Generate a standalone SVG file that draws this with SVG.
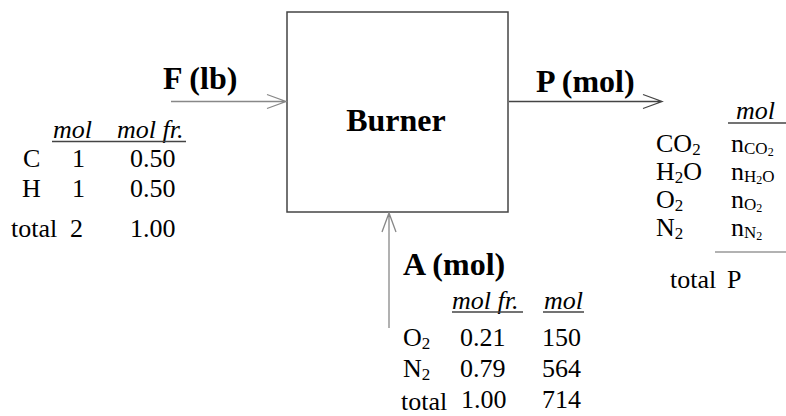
<svg xmlns="http://www.w3.org/2000/svg" width="786" height="416" viewBox="0 0 786 416">
<defs>
<style>
text{font-family:"Liberation Serif","Times New Roman",serif;fill:#000}
.lbl{font-size:32px;font-weight:bold}
.t{font-size:26px}
.h{font-size:26px;font-style:italic}
.sub{font-size:17px}
.ssub{font-size:12px}
.conn{fill:none;stroke-width:1.3}
.ul{stroke:#444;stroke-width:1.3}
</style>
</defs>
<g id="burner">
<rect x="287" y="12" width="221" height="200" fill="#fff" stroke="#444" stroke-width="1.5"/>
<text x="396" y="131" text-anchor="middle" style="font-size:32px;font-weight:bold">Burner</text>
</g>
<g id="connectors">
<path class="conn" stroke="#888" d="M171,101.5 H286 M267,94.5 L286,101.5 L267,108.5"/>
<path class="conn" stroke="#444" d="M509,101.5 H662 M643,94.5 L662,101.5 L643,108.5"/>
<path class="conn" stroke="#888" d="M389,328 V213 M382,232 L389,213 L396,232"/>
</g>
<g id="feed">
<text class="lbl" x="163" y="89">F (lb)</text>
<text class="h" x="53" y="138">mol</text>
<text class="h" x="117" y="138">mol fr.</text>
<line class="ul" x1="52" y1="141.5" x2="186" y2="141.5"/>
<text class="t" x="23" y="167">C</text>
<text class="t" x="72" y="167">1</text>
<text class="t" x="130" y="167">0.50</text>
<text class="t" x="22" y="197">H</text>
<text class="t" x="72" y="197">1</text>
<text class="t" x="130" y="197">0.50</text>
<text class="t" x="11" y="237">total</text>
<text class="t" x="70" y="237">2</text>
<text class="t" x="130" y="237">1.00</text>
</g>
<g id="product">
<text class="lbl" x="536" y="92">P (mol)</text>
<text class="h" x="736" y="119">mol</text>
<line class="ul" x1="728" y1="123" x2="786" y2="123"/>
<text class="t" x="656" y="152">CO<tspan class="sub" dy="3">2</tspan></text>
<text class="t" x="731" y="152">n<tspan class="sub" dy="2">CO</tspan><tspan class="ssub" dy="2">2</tspan></text>
<text class="t" x="656" y="180">H<tspan class="sub" dy="3">2</tspan><tspan dy="-3">O</tspan></text>
<text class="t" x="731" y="180">n<tspan class="sub" dy="2">H</tspan><tspan class="ssub" dy="2">2</tspan><tspan class="sub" dy="-2">O</tspan></text>
<text class="t" x="656" y="208">O<tspan class="sub" dy="3">2</tspan></text>
<text class="t" x="731" y="208">n<tspan class="sub" dy="2">O</tspan><tspan class="ssub" dy="2">2</tspan></text>
<text class="t" x="656" y="236">N<tspan class="sub" dy="3">2</tspan></text>
<text class="t" x="731" y="236">n<tspan class="sub" dy="2">N</tspan><tspan class="ssub" dy="2">2</tspan></text>
<line x1="715" y1="252" x2="786" y2="252" stroke="#999" stroke-width="1.3"/>
<text class="t" x="670" y="288">total</text>
<text class="t" x="727" y="288">P</text>
</g>
<g id="air">
<text class="lbl" x="403" y="275">A (mol)</text>
<text class="h" x="452" y="309">mol fr.</text>
<line class="ul" x1="452" y1="312" x2="523" y2="312"/>
<text class="h" x="544" y="309">mol</text>
<line class="ul" x1="543" y1="312" x2="584" y2="312"/>
<text class="t" x="403" y="346">O<tspan class="sub" dy="3">2</tspan></text>
<text class="t" x="460" y="346">0.21</text>
<text class="t" x="542" y="346">150</text>
<text class="t" x="403" y="377">N<tspan class="sub" dy="3">2</tspan></text>
<text class="t" x="460" y="377">0.79</text>
<text class="t" x="542" y="377">564</text>
<text class="t" x="401" y="410">total</text>
<text class="t" x="461" y="408">1.00</text>
<text class="t" x="542" y="408">714</text>
</g>
</svg>
